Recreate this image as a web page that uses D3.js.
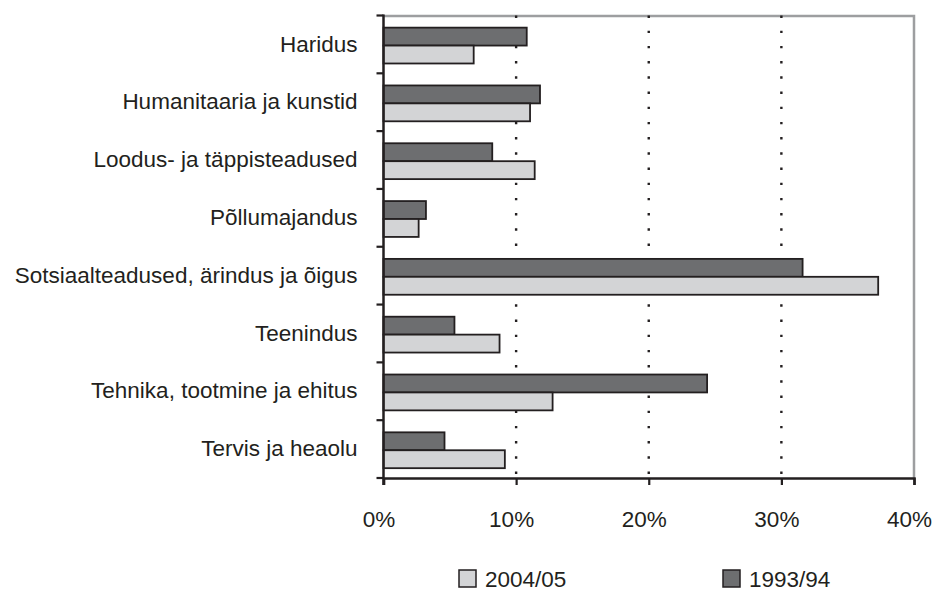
<!DOCTYPE html>
<html>
<head>
<meta charset="utf-8">
<script src="https://cdn.jsdelivr.net/npm/d3@7/dist/d3.min.js"></script>
<style>
  body { margin: 0; background: #fff; }
  text { font-family: "Liberation Sans", Arial, sans-serif; fill: #231f20; }
</style>
</head>
<body>
<div id="chart"></div>
<script>
const categories = [
  'Haridus',
  'Humanitaaria ja kunstid',
  'Loodus- ja täppisteadused',
  'Põllumajandus',
  'Sotsiaalteadused, ärindus ja õigus',
  'Teenindus',
  'Tehnika, tootmine ja ehitus',
  'Tervis ja heaolu'
];
const series = ['1993/94', '2004/05'];
const values1993 = [10.8, 11.8, 8.2, 3.2, 31.6, 5.35, 24.4, 4.6];
const values2004 = [6.8, 11.05, 11.4, 2.65, 37.3, 8.75, 12.75, 9.15];
const xTicks = [0, 10, 20, 30, 40];

const COLOR = { '1993/94': '#6d6e70', '2004/05': '#d3d4d6' };
const FONT = '22.5px';

const W = 933, H = 592;
const margin = { top: 15.5, right: 19, bottom: 114, left: 383.5 };
const width = W - margin.left - margin.right;
const height = H - margin.top - margin.bottom;

const svg = d3.select('#chart').append('svg')
  .attr('width', W).attr('height', H);
const g = svg.append('g').attr('transform', `translate(${margin.left},${margin.top})`);

const x = d3.scaleLinear().domain([0, 40]).range([0, width]);
const y = d3.scaleBand().domain(categories).range([0, height]);
const ySub = d3.scaleBand().domain(series).range([y.bandwidth() * 0.21, y.bandwidth() * 0.83]);

// Plot frame (top and right, grey)
g.append('path')
  .attr('d', `M0,0.5H${width}V${height}`)
  .attr('fill', 'none').attr('stroke', '#9d9ea0').attr('stroke-width', 2.5);

// Dotted gridlines
g.selectAll('.grid').data(xTicks.slice(1, -1)).join('line')
  .attr('class', 'grid')
  .attr('x1', d => x(d)).attr('x2', d => x(d))
  .attr('y1', 0).attr('y2', height)
  .attr('stroke', '#231f20').attr('stroke-width', 2.4)
  .attr('stroke-dasharray', '2.4,12.8');

// Bars
const rows = categories.map((c, i) => ({ cat: c, '1993/94': values1993[i], '2004/05': values2004[i] }));
const catG = g.selectAll('.cat').data(rows).join('g')
  .attr('class', 'cat')
  .attr('transform', d => `translate(0,${y(d.cat)})`);
catG.selectAll('rect').data(d => series.map(s => ({ s, v: d[s] }))).join('rect')
  .attr('x', 0).attr('y', d => ySub(d.s))
  .attr('width', d => x(d.v)).attr('height', ySub.bandwidth())
  .attr('fill', d => COLOR[d.s]).attr('stroke', '#231f20').attr('stroke-width', 1.8);

// Left axis
g.append('g')
  .call(d3.axisLeft(y).tickSize(0).tickPadding(26))
  .call(a => a.select('.domain').remove())
  .call(a => a.selectAll('.tick text').attr('font-size', FONT).attr('fill', '#231f20')
    .attr('font-family', '"Liberation Sans", Arial, sans-serif'));
g.append('g').selectAll('line').data(d3.range(categories.length + 1)).join('line')
  .attr('x1', -7).attr('x2', 0)
  .attr('y1', i => i * y.step()).attr('y2', i => i * y.step())
  .attr('stroke', '#231f20').attr('stroke-width', 2.2);
g.append('line').attr('x1', 0).attr('x2', 0).attr('y1', -1).attr('y2', height + 7)
  .attr('stroke', '#231f20').attr('stroke-width', 2.5);

// Bottom axis
g.append('g').attr('transform', `translate(0,${height})`)
  .call(d3.axisBottom(x).tickValues(xTicks).tickSize(7).tickPadding(26).tickFormat(d => d + '%'))
  .call(a => a.select('.domain').attr('stroke', '#231f20').attr('stroke-width', 2.5))
  .call(a => a.selectAll('.tick line').attr('stroke', '#231f20').attr('stroke-width', 2.2))
  .call(a => a.selectAll('.tick text').attr('font-size', FONT).attr('fill', '#231f20').attr('dx', -5)
    .attr('font-family', '"Liberation Sans", Arial, sans-serif'));

// Legend
const legendItems = [
  { s: '2004/05', x: 459 },
  { s: '1993/94', x: 723 }
];
const leg = svg.selectAll('.leg').data(legendItems).join('g')
  .attr('class', 'leg').attr('transform', d => `translate(${d.x},570)`);
leg.append('rect').attr('width', 17).attr('height', 17)
  .attr('fill', d => COLOR[d.s]).attr('stroke', '#231f20').attr('stroke-width', 1.5);
leg.append('text').attr('x', 26).attr('y', 17).attr('font-size', FONT).text(d => d.s);
</script>
</body>
</html>
